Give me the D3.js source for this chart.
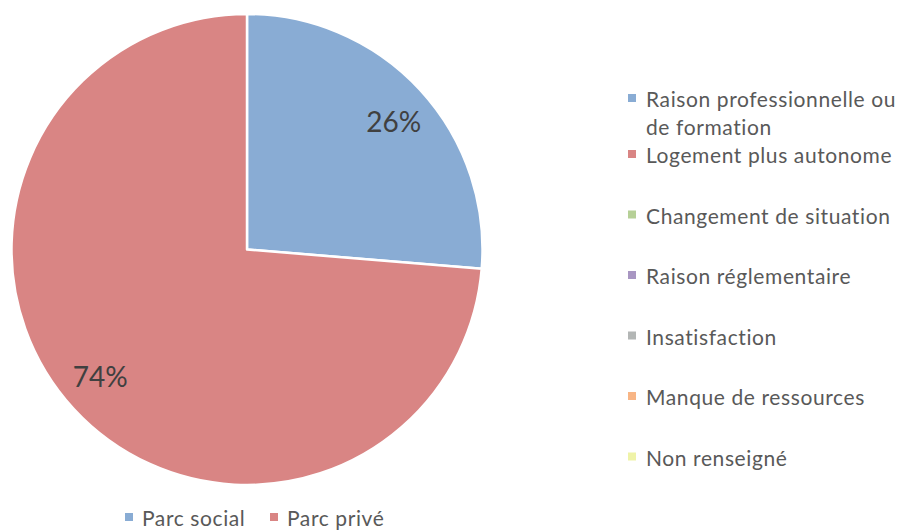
<!DOCTYPE html>
<html>
<head>
<meta charset="utf-8">
<script src="https://cdn.jsdelivr.net/npm/d3@7"></script>
<style>
  body { margin: 0; background: #fff; }
  svg { display: block; font-family: Lato, "Open Sans", sans-serif; }
</style>
</head>
<body>
<div id="chart"></div>
<script>
// slices (bottom legend)
var sliceNames = ["Parc social", "Parc privé"];
var sliceValues = [26.3, 73.7];
var sliceColors = ["#89acd4", "#d98584"];

// right-hand legend
var legendNames = [["Raison professionnelle ou", "de formation"], ["Logement plus autonome"],
    ["Changement de situation"], ["Raison réglementaire"], ["Insatisfaction"],
    ["Manque de ressources"], ["Non renseigné"]];
var legendColors = ["#89acd4", "#d98584", "#b6d097", "#a896c2", "#b3b6b5", "#f8b585", "#eff3a8"];

var width = 898, height = 531;
var cx = 247, cy = 249.5, radius = 235.5;

var svg = d3.select("#chart").append("svg")
    .attr("width", width)
    .attr("height", height);

var pie = d3.pie().sort(null).value(d => d);
var arcs = pie(sliceValues);
var arc = d3.arc().innerRadius(0).outerRadius(radius);
var labelArc = d3.arc().innerRadius(radius * 0.825).outerRadius(radius * 0.825);
// excel nudges the labels a little clockwise
var nudge = 0.03;

var g = svg.append("g").attr("transform", "translate(" + cx + "," + cy + ")");
g.selectAll("path")
    .data(arcs)
    .enter()
    .append("path")
    .attr("d", arc)
    .attr("fill", (d, i) => sliceColors[i])
    .attr("stroke", "#fff")
    .attr("stroke-width", 2.5)
    .attr("stroke-linejoin", "round");

var fmt = d3.format(".0%");
var total = d3.sum(sliceValues);
g.selectAll("text.lbl")
    .data(arcs)
    .enter()
    .append("text")
    .attr("class", "lbl")
    .attr("transform", d => "translate(" + labelArc.centroid({startAngle: d.startAngle + nudge, endAngle: d.endAngle + nudge}) + ")")
    .attr("text-anchor", "middle")
    .attr("dy", "0.36em")
    .attr("font-size", 28)
    .attr("fill", "#404040")
    .text(d => fmt(d.value / total));

// right legend
var baselines = [107, 163, 223.5, 284, 344.5, 405, 465.5];
var leg = svg.append("g").selectAll("g")
    .data(legendNames)
    .enter()
    .append("g")
    .attr("transform", (d, i) => "translate(628," + baselines[i] + ")");
leg.append("rect")
    .attr("x", 0).attr("y", -13)
    .attr("width", 8).attr("height", 8)
    .attr("fill", (d, i) => legendColors[i]);
leg.append("text")
    .attr("x", 18)
    .attr("font-size", 21)
    .attr("letter-spacing", 0.6)
    .attr("fill", "#595959")
    .selectAll("tspan")
    .data(d => d)
    .enter()
    .append("tspan")
    .attr("x", 18)
    .attr("dy", (d, i) => i ? 28 : 0)
    .text(d => d);

// bottom legend
var bx = [125, 270];
var bl = svg.append("g").selectAll("g")
    .data(sliceNames)
    .enter()
    .append("g")
    .attr("transform", (d, i) => "translate(" + bx[i] + ",526)");
bl.append("rect")
    .attr("x", 0).attr("y", -13)
    .attr("width", 8).attr("height", 8)
    .attr("fill", (d, i) => sliceColors[i]);
bl.append("text")
    .attr("x", 17)
    .attr("font-size", 21)
    .attr("letter-spacing", 0.6)
    .attr("fill", "#595959")
    .text(d => d);
</script>
</body>
</html>
